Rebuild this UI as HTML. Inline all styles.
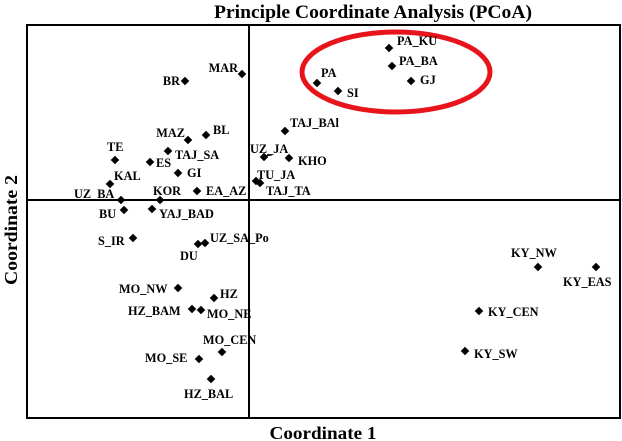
<!DOCTYPE html>
<html><head><style>
html,body{margin:0;padding:0;background:#fff;}
svg{display:block;}
text{font-family:"Liberation Serif",serif;font-weight:bold;fill:#000;}
.l{font-size:12.3px;}
</style></head><body>
<svg width="622" height="441" viewBox="0 0 622 441" xmlns="http://www.w3.org/2000/svg">
<defs><path id="d" d="M0,-4.3 L4.3,0 L0,4.3 L-4.3,0Z"/></defs>
<text x="373" y="18" font-size="19" text-anchor="middle" textLength="318" lengthAdjust="spacingAndGlyphs">Principle Coordinate Analysis (PCoA)</text>
<text x="323" y="439" font-size="18" text-anchor="middle" textLength="107" lengthAdjust="spacingAndGlyphs">Coordinate 1</text>
<text transform="translate(17,230) rotate(-90)" font-size="18" text-anchor="middle" textLength="110" lengthAdjust="spacingAndGlyphs">Coordinate 2</text>
<rect x="27" y="25" width="593" height="393" fill="none" stroke="#000" stroke-width="2"/>
<line x1="249" y1="25" x2="249" y2="418" stroke="#000" stroke-width="2"/>
<line x1="27" y1="200" x2="620" y2="200" stroke="#000" stroke-width="2"/>
<ellipse cx="396" cy="72" rx="94" ry="40" fill="none" stroke="#e8141c" stroke-width="5"/>
<line x1="264" y1="156" x2="272" y2="155" stroke="#000" stroke-width="1"/>
<g>
<use href="#d" x="242" y="74"/><use href="#d" x="185" y="81"/><use href="#d" x="206" y="135"/>
<use href="#d" x="188" y="140"/><use href="#d" x="115" y="160"/><use href="#d" x="168" y="151"/>
<use href="#d" x="150" y="162"/><use href="#d" x="178" y="173"/><use href="#d" x="110" y="184"/>
<use href="#d" x="197" y="191"/><use href="#d" x="160" y="200"/><use href="#d" x="121" y="200"/>
<use href="#d" x="124" y="210"/><use href="#d" x="152" y="209"/><use href="#d" x="133" y="238"/>
<use href="#d" x="198" y="244"/><use href="#d" x="205" y="243"/><use href="#d" x="178" y="288"/>
<use href="#d" x="214" y="298"/><use href="#d" x="192" y="309"/><use href="#d" x="201" y="310"/>
<use href="#d" x="222" y="352"/><use href="#d" x="199" y="359"/><use href="#d" x="211" y="379"/>
<use href="#d" x="285" y="131"/><use href="#d" x="264" y="157"/><use href="#d" x="289" y="158"/>
<use href="#d" x="256" y="181"/><use href="#d" x="260" y="183"/>
<use href="#d" x="317" y="83"/><use href="#d" x="338" y="91"/><use href="#d" x="389" y="48"/>
<use href="#d" x="392" y="66"/><use href="#d" x="411" y="81"/>
<use href="#d" x="538" y="267"/><use href="#d" x="596" y="267"/><use href="#d" x="479" y="311"/><use href="#d" x="465" y="351"/>
</g>
<g class="l">
<text x="238" y="72" text-anchor="end">MAR</text>
<text x="180" y="85" text-anchor="end">BR</text>
<text x="213" y="134">BL</text>
<text x="185" y="137" text-anchor="end">MAZ</text>
<text x="107" y="151">TE</text>
<text x="175" y="159">TAJ_SA</text>
<text x="156" y="167">ES</text>
<text x="187" y="177">GI</text>
<text x="114" y="180">KAL</text>
<text x="206" y="195">EA_AZ</text>
<text x="153" y="195">KOR</text>
<text x="74" y="198">UZ_BA</text>
<text x="99" y="218">BU</text>
<text x="159" y="218">YAJ_BAD</text>
<text x="98" y="245">S_IR</text>
<text x="210" y="242">UZ_SA_Po</text>
<text x="180" y="260">DU</text>
<text x="119" y="293">MO_NW</text>
<text x="220" y="298">HZ</text>
<text x="128" y="315">HZ_BAM</text>
<text x="207" y="318">MO_NE</text>
<text x="203" y="344">MO_CEN</text>
<text x="145" y="362">MO_SE</text>
<text x="184" y="398">HZ_BAL</text>
<text x="290" y="127">TAJ_BAl</text>
<text x="250" y="153">UZ_JA</text>
<text x="298" y="165">KHO</text>
<text x="257" y="179">TU_JA</text>
<text x="266" y="195">TAJ_TA</text>
<text x="321" y="77">PA</text>
<text x="347" y="97">SI</text>
<text x="397" y="45">PA_KU</text>
<text x="399" y="65">PA_BA</text>
<text x="420" y="84">GJ</text>
<text x="511" y="257">KY_NW</text>
<text x="563" y="286">KY_EAS</text>
<text x="488" y="316">KY_CEN</text>
<text x="474" y="358">KY_SW</text>
</g>
</svg>
</body></html>
